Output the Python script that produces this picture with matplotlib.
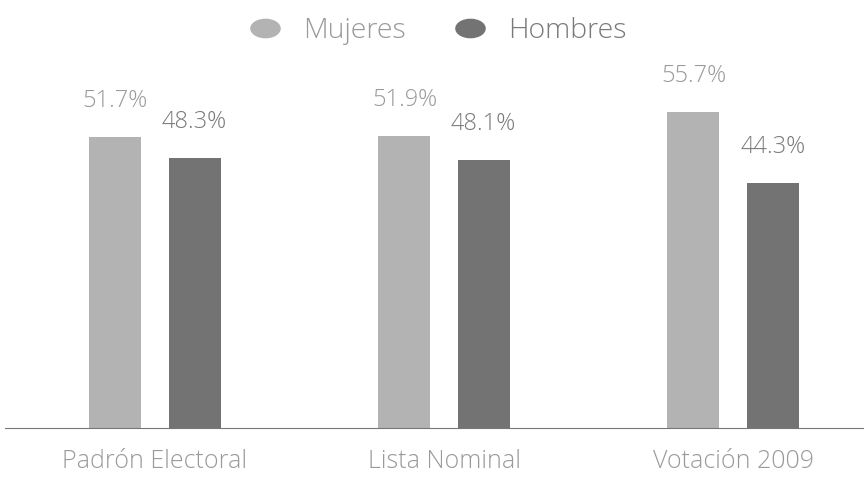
import matplotlib
matplotlib.use('Agg')
import numpy as np, matplotlib.pyplot as plt
from matplotlib.lines import Line2D
from matplotlib.path import Path
from matplotlib.transforms import Affine2D

plt.rcParams['font.family'] = ['Open Sans', 'DejaVu Sans']

categorias = ['Padrón Electoral', 'Lista Nominal', 'Votación 2009']
mujeres = [51.7, 51.9, 55.7]
hombres = [48.3, 48.1, 44.3]
series = ['Mujeres', 'Hombres']

c_muj, c_hom = '#b3b3b3', '#737373'
t_muj, t_hom = '#9a9a9a', '#7a7a7a'

fig = plt.figure(figsize=(8.64, 4.78), dpi=100)
ax = fig.add_axes([5/864, 50/478, 859/864, 388/478])

x = np.arange(len(categorias))
w, off = 0.18, 0.137
b1 = ax.bar(x - off, mujeres, w, color=c_muj)
b2 = ax.bar(x + off, hombres, w, color=c_hom)

for bars, vals, col in [(b1, mujeres, t_muj), (b2, hombres, t_hom)]:
    for b, v in zip(bars, vals):
        ax.annotate(f'{v:.1f}%', (b.get_x() + b.get_width()/2, v), xytext=(0, 36),
                    textcoords='offset pixels', ha='center', va='center',
                    fontsize=17, color=col, fontweight='light')

ax.set_ylim(5, 67.3)
ax.set_xlim(-0.519, 2.453)
ax.set_xticks(x)
ax.set_xticklabels(categorias, fontsize=18, color='#9a9a9a', fontweight='light')
ax.tick_params(axis='x', length=0, pad=15)
ax.set_yticks([])
for s in ['top', 'right', 'left']:
    ax.spines[s].set_visible(False)
ax.spines['bottom'].set_color('#777777')
ax.spines['bottom'].set_linewidth(0.8)
ax.spines['bottom'].set_linestyle((0, (1, 1)))

# ellipse marker for the legend
elipse = Path.unit_circle().transformed(Affine2D().scale(1.6, 1.0))
handles = [Line2D([], [], marker=elipse, ls='', markersize=21, color=c) for c in (c_muj, c_hom)]
leg = fig.legend(handles, series, loc='upper center', bbox_to_anchor=(0.506, 1.018), ncol=2,
                 frameon=False, fontsize=20.5, handlelength=1.2, handletextpad=0.73,
                 columnspacing=1.65)
for t, c in zip(leg.get_texts(), (t_muj, t_hom)):
    t.set_color(c)
    t.set_fontweight('light')

plt.savefig('out.png', dpi=100)
